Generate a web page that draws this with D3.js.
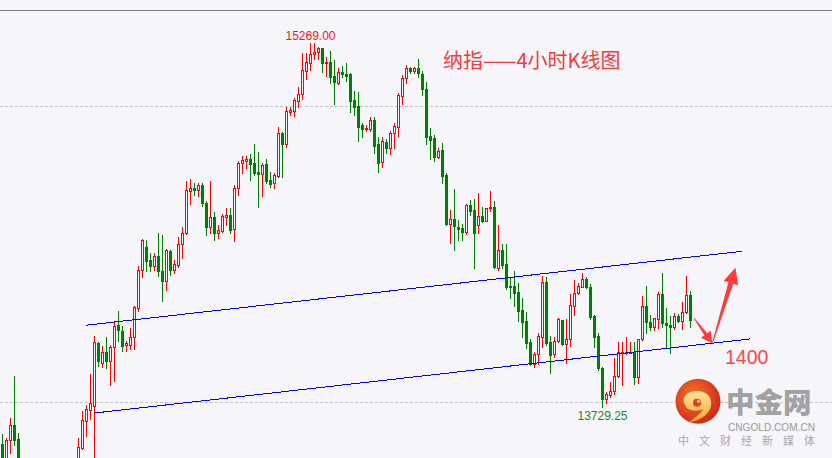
<!DOCTYPE html>
<html><head><meta charset="utf-8">
<script src="https://cdn.jsdelivr.net/npm/d3@7"></script>
<style>html,body{margin:0;padding:0;background:#f5f5fa;overflow:hidden}</style>
</head><body>
<svg id="c" width="832" height="458"></svg>
<script>
// ---- data (price units) ----
const opens=[13574,13498,13591,13653,13595,13465,13380,13317,13401,13338,13422,13465,13359,13275,13338,13253,13359,13389,13431,13465,
13557,13673,13719,13734,14001,13916,13963,13926,13983,14076,14050,13991,13994,14025,14149,14308,14406,14353,14327,14367,
14304,14261,14388,14310,14331,14419,14465,14644,14655,14647,14668,14593,14492,14534,14464,14475,14534,14541,14481,14654,
14762,14769,14778,14762,14724,14713,14757,14689,14675,14706,14889,14841,14978,14982,15024,15052,15151,15185,15220,15231,
15245,15182,15189,15128,15098,15144,15137,15137,15027,15002,14921,14903,14903,14943,14841,14764,14851,14826,14886,14914,
15045,15119,15161,15150,15161,15137,15072,14875,14865,14785,14816,14710,14503,14525,14492,14487,14471,14584,14563,14499,
14537,14517,14570,14576,14316,14394,14334,14243,14242,14218,14140,14095,14006,13912,13953,14027,14260,14006,13954,14010,
14098,13997,14016,14157,14211,14239,14270,14239,14115,14030,13894,13763,13781,13798,13863,13962,13957,13960,13964,13859,
14016,14157,14091,14067,14101,14208,14084,14077,14070,14115,14095,14133,14204];
const highs=[13617,13600,13684,13863,13621,13498,13422,13431,13443,13465,13481,13486,13380,13359,13359,13380,13431,13465,13498,13600,
13715,13740,13871,14032,14005,13987,14026,13991,14095,14135,14071,14008,14064,14155,14325,14440,14435,14381,14381,14465,
14458,14398,14392,14353,14448,14492,14685,14693,14677,14677,14678,14601,14685,14555,14499,14546,14570,14570,14668,14769,
14791,14792,14798,14841,14809,14760,14778,14724,14720,14914,14893,14999,14996,15034,15081,15224,15227,15269,15266,15251,
15248,15207,15234,15196,15161,15171,15185,15142,15066,15062,14931,14921,14957,14957,14872,14872,14861,14896,14931,15055,
15133,15175,15168,15168,15199,15151,15104,14908,14879,14823,14844,14718,14563,14650,14520,14503,14588,14605,14608,14636,
14576,14572,14644,14601,14499,14419,14419,14274,14306,14253,14190,14133,14016,13964,14044,14284,14278,14030,14025,14105,
14100,14101,14208,14267,14256,14295,14278,14250,14119,14044,13901,13795,13837,13936,14006,14006,14025,14006,14006,14018,
14199,14242,14119,14107,14218,14298,14147,14115,14126,14123,14175,14284,14220];
const lows=[13443,13486,13536,13571,13422,13338,13275,13296,13317,13317,13389,13338,13232,13253,13211,13232,13338,13372,13414,13443,
13553,13609,13681,13465,13902,13898,13895,13822,13842,14008,13966,13968,13977,13977,14137,14280,14306,14306,14310,14283,
14179,14226,14289,14296,14322,14360,14461,14588,14626,14622,14579,14457,14464,14436,14446,14471,14499,14467,14433,14626,
14718,14740,14689,14710,14574,14623,14678,14661,14657,14703,14701,14827,14964,14961,14996,15030,15114,15154,15200,15200,
15147,15128,15100,15010,15093,15123,15107,14978,14964,14855,14872,14896,14897,14804,14724,14745,14802,14799,14823,14876,
15009,15098,15142,15142,15125,15048,14841,14778,14769,14781,14678,14499,14422,14394,14436,14436,14461,14541,14316,14464,
14513,14515,14560,14316,14309,14316,14228,14190,14157,14095,14027,13978,13908,13901,13911,13985,13992,13875,13943,14006,
13992,13918,13988,14119,14208,14236,14232,14101,13985,13887,13729.25,13746,13774,13785,13859,13823,13955,13957,13828,13833,
14013,14042,14056,14056,14063,14070,13978,13957,14059,14091,14059,14129,14067];
const closes=[13465,13591,13653,13591,13465,13380,13317,13401,13338,13422,13465,13359,13275,13338,13253,13359,13389,13431,13473,13562,
13674,13722,13747,14004,13924,13962,13926,13984,14074,14054,13989,14001,14025,14152,14308,14435,14347,14327,14367,14304,
14261,14392,14310,14334,14419,14465,14647,14655,14647,14668,14591,14492,14532,14464,14478,14537,14541,14478,14654,14760,
14774,14778,14757,14718,14713,14753,14685,14671,14710,14886,14841,14981,14985,15027,15051,15154,15189,15221,15228,15245,
15182,15189,15125,15104,15147,15136,15128,15024,14999,14914,14903,14910,14943,14834,14762,14854,14826,14889,14917,15048,
15119,15161,15150,15161,15140,15072,14872,14858,14785,14812,14706,14503,14523,14495,14484,14471,14584,14560,14464,14537,
14517,14570,14576,14323,14394,14330,14236,14236,14213,14137,14091,14002,13912,13954,14030,14260,14002,13950,14010,14101,
13997,14016,14161,14211,14242,14270,14236,14112,14027,13894,13764,13784,13798,13863,13964,13964,13964,13964,13859,14016,
14157,14091,14067,14105,14208,14084,14077,14070,14115,14095,14133,14204,14098];
const gridPrices=[15000,13750];
const upperChannel=[[20.9,14076],[184.8,14388]];   // [bar index, price]
const lowerChannel=[[22.95,13705],[186.9,14018]];
const arrowPath=[[172.9,14105],[177.45,14000],[183.25,14319]];
const highLabel={index:77,price:15269,text:"15269.00"};
const lowLabel={index:150,price:13729.25,text:"13729.25"};
const titleText="纳指——4小时K线图";
const targetText="1400";

// ---- drawing ----
const W=832,H=458,BG="#f5f5fa",UP="#ff0000",DOWN="#008000";
const candles=opens.map((o,i)=>({i,o,h:highs[i],l:lows[i],c:closes[i]}));
const x=d3.scaleLinear().domain([0,candles.length-1]).range([2.5,2.5+4*(candles.length-1)]);
const y=d3.scaleLinear().domain([13750,15000]).range([402.4,106.4]);
const svg=d3.select("#c");
svg.append("rect").attr("width",W).attr("height",H).attr("fill",BG);

// grid (dashed) via axis
const grid=svg.append("g")
  .call(d3.axisRight(y).tickValues(gridPrices).tickSize(W).tickFormat(""));
grid.select(".domain").remove();
grid.selectAll(".tick line").attr("stroke","#c4c4c8").attr("stroke-dasharray","3,2")
  .attr("shape-rendering","crispEdges");
grid.selectAll(".tick").attr("transform",d=>`translate(0,${Math.round(y(d))+0.5})`);

// top border
svg.append("line").attr("x1",0).attr("x2",W).attr("y1",10.5).attr("y2",10.5)
  .attr("stroke","#808080").attr("stroke-width",1);

const R=v=>Math.round(y(v));
const g=svg.append("g");
candles.forEach(d=>{
  const cx=x(d.i), up=d.c>=d.o, col=up?UP:DOWN;
  g.append("line").attr("x1",cx).attr("x2",cx).attr("y1",R(d.h)).attr("y2",R(d.l)+1)
    .attr("stroke",col).attr("shape-rendering","crispEdges");
  const top=R(Math.max(d.o,d.c)), bot=R(Math.min(d.o,d.c));
  if(up){
    g.append("rect").attr("x",cx-1).attr("y",top+0.5).attr("width",2).attr("height",Math.max(1,bot-top))
      .attr("fill",BG).attr("stroke",col).attr("stroke-width",1);
  } else {
    g.append("rect").attr("x",cx-1.5).attr("y",top).attr("width",3).attr("height",Math.max(2,bot-top+1))
      .attr("fill",col).attr("shape-rendering","crispEdges");
  }
});

// channel lines
[upperChannel,lowerChannel].forEach(L=>{
  svg.append("line").attr("x1",x(L[0][0])).attr("y1",y(L[0][1])).attr("x2",x(L[1][0])).attr("y2",y(L[1][1]))
    .attr("stroke","#0000ff").attr("stroke-width",1).attr("shape-rendering","crispEdges");
});

// arrows
function taper(p0,p1,w0,w1,hl,hw){
  const dx=p1[0]-p0[0],dy=p1[1]-p0[1],L=Math.hypot(dx,dy),ux=dx/L,uy=dy/L,nx=-uy,ny=ux;
  const b=[p1[0]-ux*hl,p1[1]-uy*hl];
  const pts=[[p0[0]+nx*w0/2,p0[1]+ny*w0/2],[b[0]+nx*w1/2,b[1]+ny*w1/2],[b[0]+nx*hw,b[1]+ny*hw],p1,
    [b[0]-nx*hw,b[1]-ny*hw],[b[0]-nx*w1/2,b[1]-ny*w1/2],[p0[0]-nx*w0/2,p0[1]-ny*w0/2]];
  return "M"+pts.map(p=>p.join(",")).join("L")+"Z";
}
const ap=arrowPath.map(p=>[x(p[0]),y(p[1])]);
svg.append("path").attr("d",taper(ap[0],ap[1],0.8,3.5,11,6)).attr("fill","#ff3b3b");
svg.append("path").attr("d",taper([ap[1][0],ap[1][1]+0.5],ap[2],0.8,5,16,7.5)).attr("fill","#ff3b3b");

// labels
svg.append("text").attr("x",x(highLabel.index)).attr("y",y(highLabel.price)-3).attr("text-anchor","middle")
  .attr("font-family","Liberation Sans, Arial, sans-serif").attr("font-size",12).attr("fill","#f01818").text(highLabel.text);
svg.append("text").attr("x",x(lowLabel.index)).attr("y",y(lowLabel.price)+13).attr("text-anchor","middle")
  .attr("font-family","Liberation Sans, Arial, sans-serif").attr("font-size",12).attr("fill","#1f8a1f").text(lowLabel.text);
svg.append("text").attr("x",443).attr("y",68).attr("font-family","Noto Sans CJK SC, sans-serif")
  .attr("font-size",20).attr("fill","#f23c3c").text(titleText);
svg.append("text").attr("x",725).attr("y",363.5).attr("font-family","Liberation Sans, Arial, sans-serif")
  .attr("font-size",19.5).attr("fill","#ff4545").text(targetText);

// logo
const defs=svg.append("defs");
const rg=defs.append("radialGradient").attr("id","lg").attr("cx","40%").attr("cy","38%").attr("r","65%");
rg.append("stop").attr("offset","0%").attr("stop-color","#f27a2e");
rg.append("stop").attr("offset","60%").attr("stop-color","#e0461f");
rg.append("stop").attr("offset","100%").attr("stop-color","#c92a1a");
const yg=defs.append("linearGradient").attr("id","yg").attr("x1","0").attr("y1","0").attr("x2","0").attr("y2","1");
yg.append("stop").attr("offset","0%").attr("stop-color","#fde49a");
yg.append("stop").attr("offset","100%").attr("stop-color","#f2a52a");
const logo=svg.append("g").attr("transform","translate(698,401.3)");
logo.append("circle").attr("r",22.5).attr("fill","url(#lg)");
logo.append("path").attr("d","M-14,2C-16,-8,-6,-11,2,-10C10,-9,14,-3,13,4C12,12,4,19,-9,21C-3,16,3,12,5,8C1,10,-7,10,-11,7Z")
  .attr("fill","url(#yg)");
logo.append("circle").attr("cx",-1).attr("cy",1.5).attr("r",4).attr("fill","#d9431f");
logo.append("circle").attr("cx",0.5).attr("cy",0).attr("r",1.6).attr("fill","#f6c050");
svg.append("text").attr("x",726).attr("y",413).attr("font-family","Noto Sans CJK SC, sans-serif")
  .attr("font-size",28.5).attr("font-weight",900).attr("fill","#a2a2a2").text("中金网");
svg.append("text").attr("x",728).attr("y",431).attr("font-family","Liberation Sans, Arial, sans-serif")
  .attr("font-size",11.5).attr("fill","#9a9a9a").attr("textLength",87).attr("lengthAdjust","spacingAndGlyphs").text("CNGOLD.COM.CN");
svg.append("text").attr("x",678).attr("y",444.5).attr("font-family","Noto Sans CJK SC, sans-serif")
  .attr("font-size",11).attr("fill","#a8a8a8").attr("textLength",137).attr("lengthAdjust","spacing").text("中文财经新媒体");
</script>
</body></html>
